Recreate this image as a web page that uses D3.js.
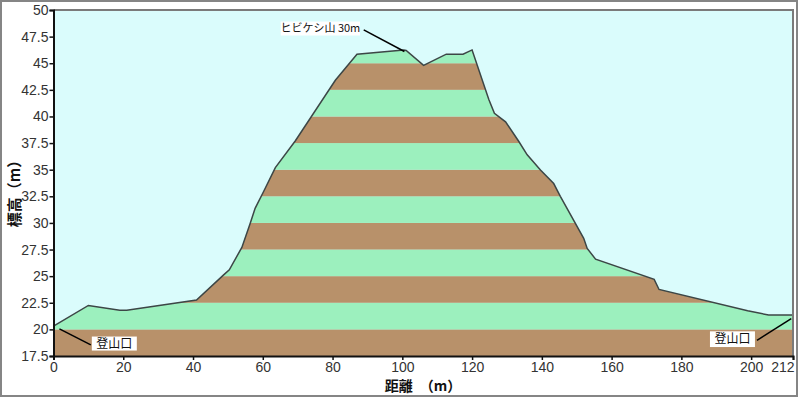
<!DOCTYPE html>
<html><head><meta charset="utf-8">
<script src="https://cdn.jsdelivr.net/npm/d3@7"></script>
<style>body{margin:0;background:#fff}svg{display:block}</style>
</head><body>
<svg id="c" width="800" height="398"></svg>
<script>
const distance = [0, 10, 19, 21, 41, 48.7, 50.4, 54, 56.4, 57.8, 60.2, 63.6, 69.3, 80.8, 87, 100.4, 101.1, 106.1, 112.6, 117.4, 120, 124.8, 126.4, 129.6, 133.4, 135.8, 139.6, 143.4, 145.3, 152, 153, 155.4, 172.2, 173.6, 199, 205, 212];
const elevation = [20.3, 22.25, 21.8, 21.8, 22.75, 25.1, 25.6, 27.7, 29.96, 31.37, 32.93, 35.2, 37.7, 43.4, 45.85, 46.25, 46.2, 44.8, 45.85, 45.85, 46.25, 41.6, 40.3, 39.5, 37.65, 36.4, 34.97, 33.7, 32.5, 28.55, 27.6, 26.6, 24.7, 23.75, 21.75, 21.35, 21.35];
const xTicks = [0, 20, 40, 60, 80, 100, 120, 140, 160, 180, 200, 212];
const yTicks = [17.5, 20, 22.5, 25, 27.5, 30, 32.5, 35, 37.5, 40, 42.5, 45, 47.5, 50];
const bandEdges = [17.5, 20, 22.5, 25, 27.5, 30, 32.5, 35, 37.5, 40, 42.5, 45, 47.5, 50];
const annoText = ["ヒビケシ山 30m", "登山口", "登山口"];
const annoX = [100.6, 1.7, 211.5];
const annoY = [46.1, 20.05, 21.0];

const svg = d3.select("#c");
const L = 53.5, T = 10, R = 793, B = 356;
const x = d3.scaleLinear().domain([0, 212]).range([L, R]);
const y = d3.scaleLinear().domain([17.5, 50]).range([B, T]);

// outer frame
svg.append("rect").attr("x", 1).attr("y", 1).attr("width", 796).attr("height", 395)
  .attr("fill", "#fff").attr("stroke", "#858585").attr("stroke-width", 2);

// plot background
svg.append("rect").attr("x", L).attr("y", T).attr("width", R - L).attr("height", B - T).attr("fill", "#dafcfc");

const pts = distance.map((d, i) => [d, elevation[i]]);
const area = d3.area().x(d => x(d[0])).y0(B).y1(d => y(d[1]));
svg.append("clipPath").attr("id", "cp").append("path").attr("d", area(pts));

const g = svg.append("g").attr("clip-path", "url(#cp)");
for (let i = 0; i < bandEdges.length - 1; i++) {
  g.append("rect").attr("x", L).attr("width", R - L)
    .attr("y", y(bandEdges[i + 1])).attr("height", y(bandEdges[i]) - y(bandEdges[i + 1]))
    .attr("fill", i % 2 === 0 ? "#b8916a" : "#9cf0be");
}
const line = d3.line().x(d => x(d[0])).y(d => y(d[1]));
svg.append("path").attr("d", line(pts)).attr("fill", "none").attr("stroke", "#3c4646").attr("stroke-width", 1.5);

// plot border top/right
svg.append("path").attr("d", `M${L},${T}H${R}V${B}`).attr("fill", "none").attr("stroke", "#7a7a7a").attr("stroke-width", 2);

// axes
const yAxis = d3.axisLeft(y).tickValues(yTicks).tickSize(4).tickFormat(d => d);
const xAxis = d3.axisBottom(x).tickValues(xTicks).tickSize(4).tickFormat(d => d);
const ya = svg.append("g").attr("transform", `translate(${L},0)`).call(yAxis);
const xa = svg.append("g").attr("transform", `translate(0,${B})`).call(xAxis);
[ya, xa].forEach(a => {
  a.select(".domain").attr("stroke", "#111").attr("stroke-width", 2);
  a.selectAll(".tick line").attr("stroke", "#111").attr("stroke-width", 1.5);
  a.selectAll("text").attr("font-family", "Liberation Sans, Arial, sans-serif").attr("font-size", 14).attr("fill", "#333");
});
ya.selectAll("text").attr("x", -5);
xa.selectAll("text").attr("y", 6);
xa.selectAll(".tick").filter(d => d === 212).select("text").attr("text-anchor", "end").attr("x", 1);

// titles
svg.append("text").attr("x", 423).attr("y", 391).attr("text-anchor", "middle")
  .attr("font-family", "Noto Sans CJK JP").attr("font-size", 14).attr("font-weight", "bold").attr("fill", "#111")
  .text("距離　（m）");
svg.append("text").attr("transform", "translate(20,190) rotate(-90)").attr("text-anchor", "middle")
  .attr("font-family", "Noto Sans CJK JP").attr("font-size", 15).attr("font-weight", "bold").attr("fill", "#111")
  .text("標高（m）");

// annotations
const annoLayout = [
  {ex: -40.7, ey: -21.7, bx: -83, bw: 79.3, bh: 14, by: -8.3, fs: 11},
  {ex: 31.4, ey: 16, bx: 1, bw: 45, bh: 14, by: -8.3, fs: 12},
  {ex: -34.3, ey: 21.6, bx: -47, bw: 45, bh: 15.7, by: -9, fs: 12}
];
annoText.forEach((t, i) => {
  const ax = x(annoX[i]), ay = y(annoY[i]);
  const o = annoLayout[i];
  const ex = ax + o.ex, ey = ay + o.ey;
  svg.append("line").attr("x1", ax).attr("y1", ay).attr("x2", ex).attr("y2", ey)
    .attr("stroke", "#000").attr("stroke-width", 1.5);
  svg.append("rect").attr("x", ex + o.bx).attr("y", ey + o.by).attr("width", o.bw).attr("height", o.bh).attr("fill", "#fff");
  svg.append("text").attr("x", ex + o.bx + o.bw / 2).attr("y", ey + o.by + o.bh / 2).attr("dy", "0.35em")
    .attr("text-anchor", "middle").attr("font-family", "Noto Sans CJK JP").attr("font-size", o.fs).attr("fill", "#111")
    .text(t);
});
</script>
</body></html>
